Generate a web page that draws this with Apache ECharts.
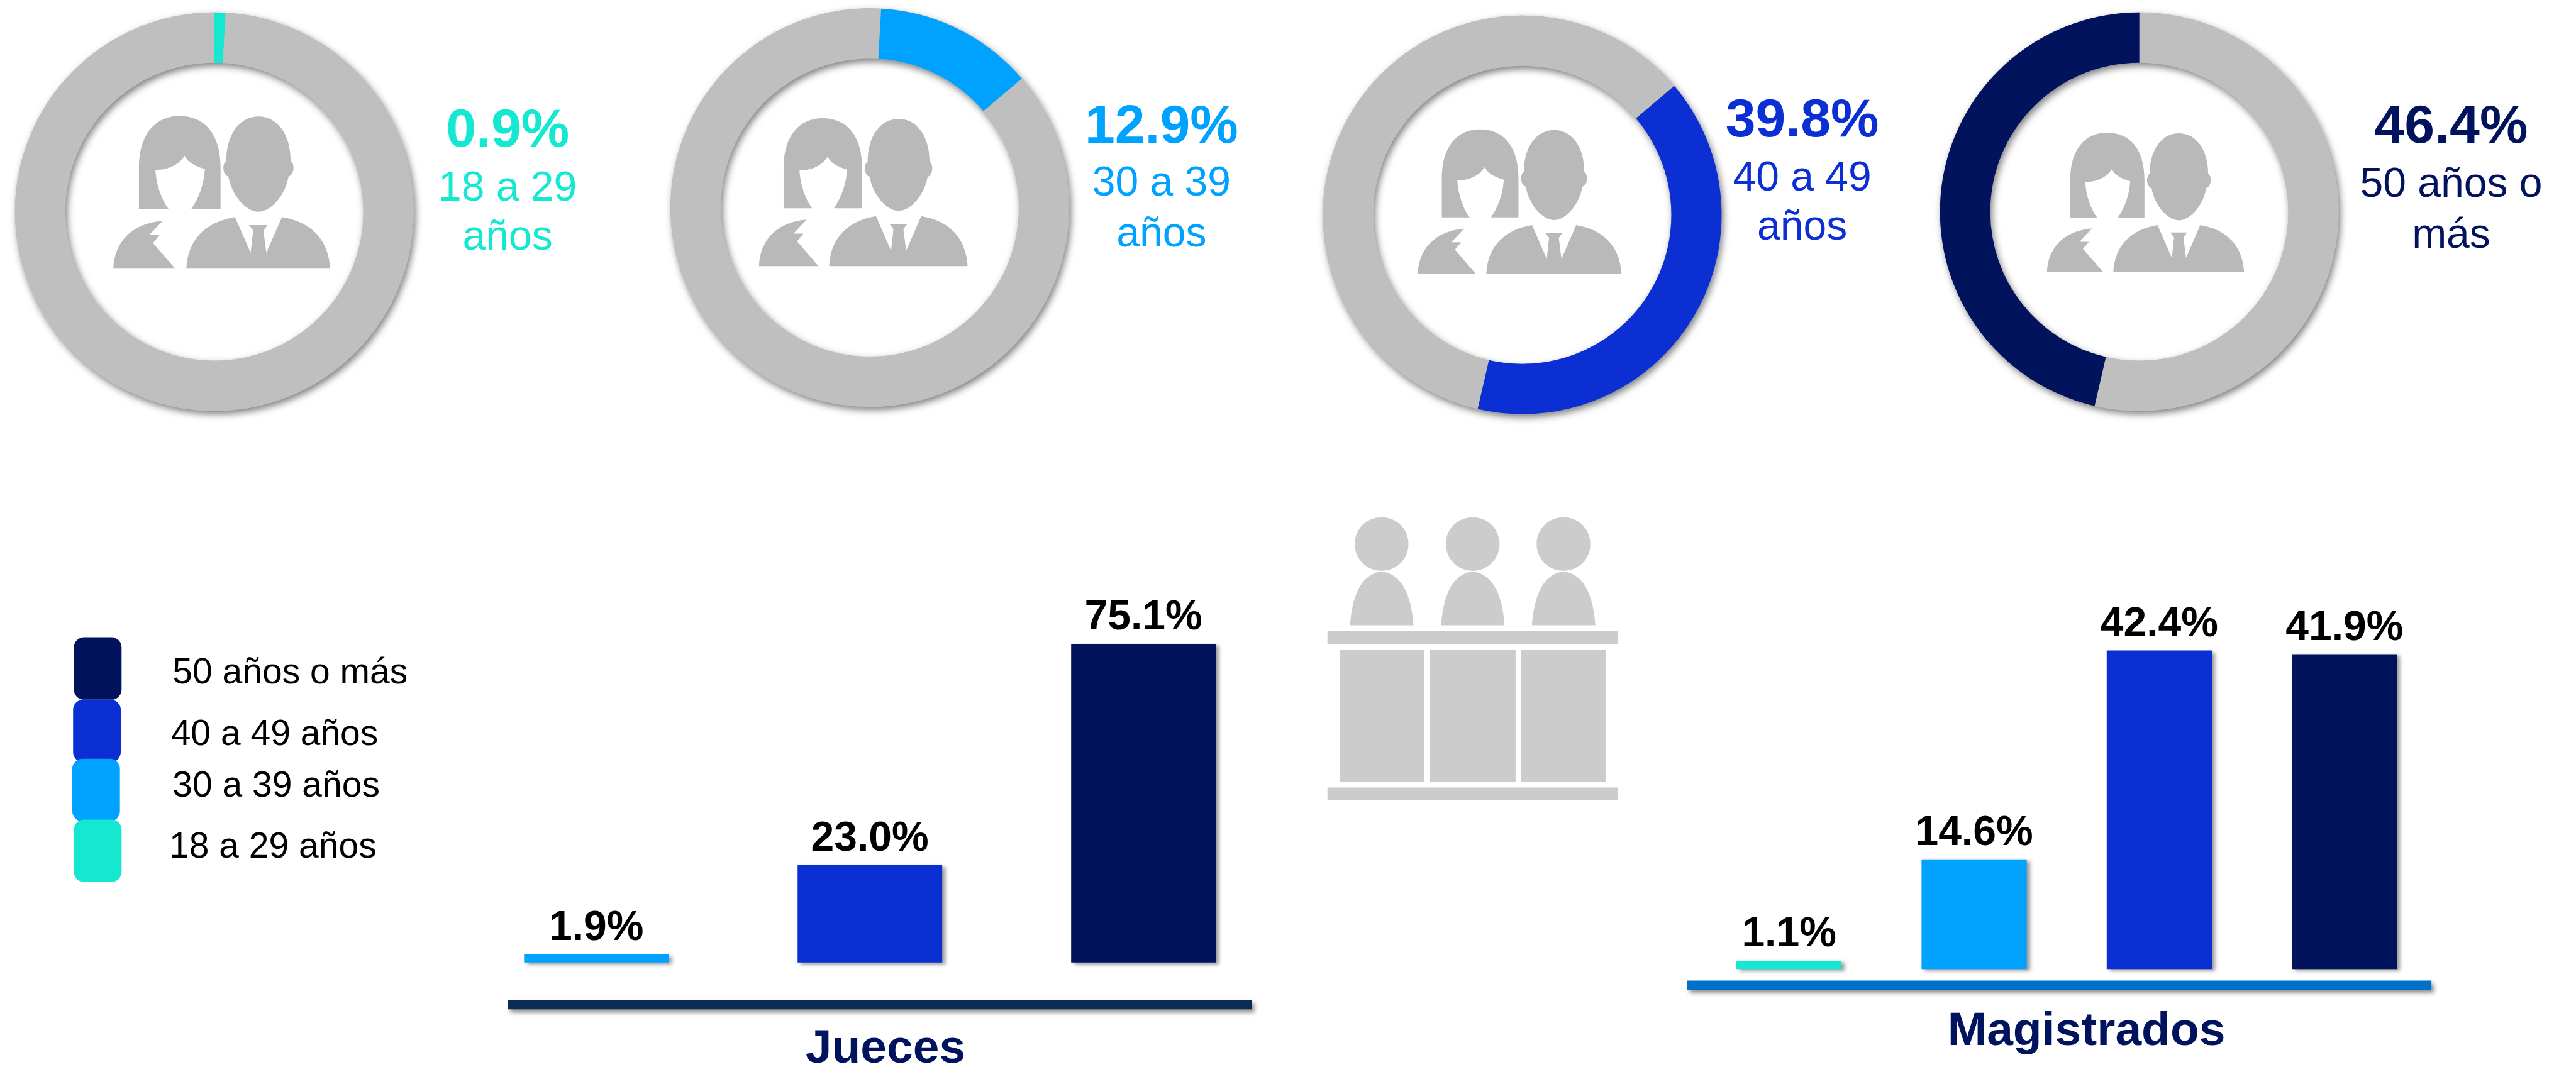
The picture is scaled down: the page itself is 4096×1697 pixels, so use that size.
<!DOCTYPE html>
<html><head><meta charset="utf-8">
<style>html,body{margin:0;padding:0;background:#fff}#c{width:4096px;height:1697px}</style>
<script src="https://cdn.jsdelivr.net/npm/echarts@6/dist/echarts.min.js"></script>
</head><body><div id="c"></div>
<script>
const ageGroups = ['18 a 29 años','30 a 39 años','40 a 49 años','50 años o más'];
const donutLines = [['18 a 29','años'],['30 a 39','años'],['40 a 49','años'],['50 años o','más']];
const donutShares = [0.9,12.9,39.8,46.4];
const juecesCats = ['30 a 39 años','40 a 49 años','50 años o más'];
const juecesValues = [1.9,23.0,75.1];
const magistradosCats = ['18 a 29 años','30 a 39 años','40 a 49 años','50 años o más'];
const magistradosValues = [1.1,14.6,42.4,41.9];
const ageColors = {'18 a 29 años':'#14E8D0','30 a 39 años':'#00A2FF','40 a 49 años':'#0B2FD3','50 años o más':'#02135E'};
const FONT = '"Liberation Sans", Arial, sans-serif';
const s = v => v*4096/1568;

const donutGeo = [
  {cx:130.5,cy:128.9,icon:[69,70.6,132,93],text:309,y:[80,115,145]},
  {cx:529.5,cy:126.4,icon:[462,72,127,90],text:707,y:[78,112,143]},
  {cx:926.6,cy:130.8,icon:[863,78.8,124,88],text:1097,y:[74,109,139]},
  {cx:1302.2,cy:128.9,icon:[1246,80.8,120,85],text:1492,y:[78,113,144]}
];
const ringOuter = 317, ringInner = 237;
const people = 'M340 748L340 600C340 480 380 415 438 415C500 415 538 480 538 600L538 748L467 748C485 710 498 660 500 605C475 595 458 580 451 557C440 585 415 608 380 608C382 660 395 715 412 748Z'
 +'M278 962C280 870 320 800 398 790L365 842L390 842L374 870L428 962Z'
 +'M552 575C552 480 585 417 630 417C675 417 708 480 708 575C718 585 718 625 703 632C695 700 660 758 630 758C600 758 565 700 557 632C542 625 542 585 552 575Z'
 +'M455 962C458 860 500 795 573 777L611 905L617 825L607 806L652 806L642 825L649 905L687 777C760 795 800 860 804 962Z';
const head = c => `M${c-107} 240C${c-107} 170 ${c-60} 115 ${c} 115C${c+60} 115 ${c+107} 170 ${c+107} 240C${c+107} 310 ${c+60} 365 ${c} 365C${c-60} 365 ${c-107} 310 ${c-107} 240Z`
 +`M${c-126} 620C${c-118} 500 ${c-90} 380 ${c} 368C${c+90} 380 ${c+120} 500 ${c+127} 620Z`;
const rectP = (a,b,c,d) => `M${a} ${b}L${c} ${b}L${c} ${d}L${a} ${d}Z`;
const bench = head(388)+head(751)+head(1113)+rectP(172,647,1331,707)+rectP(221,733,558,1352)+rectP(581,733,922,1352)+rectP(944,733,1281,1352)+rectP(172,1378,1331,1436);

const series = [], graphic = [], icons = [];
donutShares.forEach((v,i) => {
  const g = donutGeo[i], col = ageColors[ageGroups[i]];
  const center = [s(g.cx), s(g.cy)];
  series.push({type:'pie',silent:true,z:1,radius:[ringInner,ringOuter],center,label:{show:false},labelLine:{show:false},
    itemStyle:{color:'#B4B4B4',shadowBlur:12,shadowOffsetX:3,shadowOffsetY:5,shadowColor:'rgba(0,0,0,0.5)'},
    data:[{value:100,name:'base'}]});
  series.push({type:'pie',silent:true,z:2,startAngle:90,clockwise:true,minAngle:0,radius:[ringInner,ringOuter],center,label:{show:false},labelLine:{show:false},
    data:donutShares.map((x,k)=>({value:x,name:ageGroups[k],itemStyle:{color:k===i?col:'#BFBFBF'}}))});
  icons.push({d:people,box:g.icon,fill:'#B9B9B9'});
  graphic.push({type:'text',z:5,x:s(g.text),y:s(g.y[0]),style:{text:v.toFixed(1)+'%',font:`bold 86px ${FONT}`,fill:col,textAlign:'center',textVerticalAlign:'middle'}});
  donutLines[i].forEach((t,k)=>graphic.push({type:'text',z:5,x:s(g.text),y:s(g.y[k+1]),style:{text:t,font:`66px ${FONT}`,fill:col,textAlign:'center',textVerticalAlign:'middle'}}));
});

// bench icon
icons.push({d:bench,box:[808,315,177,172],fill:'#CCCCCC'});
series.push({type:'custom',coordinateSystem:'none',silent:true,z:5,data:icons.map((_,i)=>[i]),
  renderItem:(p)=>{const it=icons[p.dataIndex],b=it.box;return {type:'path',shape:{pathData:it.d,layout:'cover',x:s(b[0]),y:s(b[1]),width:s(b[2]),height:s(b[3])},style:{fill:it.fill}};}});

// legend
const legendGeo = [[45,388,426,105,410],[44.5,426,464,104,447.5],[44,462,500,105,479],[45,499,537,103,516]];
['50 años o más','40 a 49 años','30 a 39 años','18 a 29 años'].forEach((n,i)=>{
  const L = legendGeo[i];
  graphic.push({type:'rect',z:5+i,shape:{x:s(L[0]),y:s(L[1]),width:s(29),height:s(L[2]-L[1]),r:16},style:{fill:ageColors[n]}});
  graphic.push({type:'text',z:9,x:s(L[3]),y:s(L[4]),style:{text:n,font:`57px ${FONT}`,fill:'#000',textAlign:'left',textVerticalAlign:'middle'}});
});

// separators and panel titles
[[309,609,453,5.5,'#0B2D55'],[1027,597,453,5.5,'#0070C8']].forEach(r=>{
  graphic.push({type:'rect',z:3,shape:{x:s(r[0]),y:s(r[1]),width:s(r[2]),height:s(r[3])},
    style:{fill:r[4],shadowBlur:7,shadowOffsetX:4,shadowOffsetY:5,shadowColor:'rgba(0,0,0,0.45)'}});
});
[['Jueces',539,639],['Magistrados',1270,628.5]].forEach(t=>{
  graphic.push({type:'text',z:5,x:s(t[1]),y:s(t[2]),style:{text:t[0],font:`bold 75px ${FONT}`,fill:'#02135E',textAlign:'center',textVerticalAlign:'middle'}});
});

// bars
const panels = [
  {cats:juecesCats,vals:juecesValues,left:279.75,width:499.5,base:586,perUnit:2.583,max:80,bar:88},
  {cats:magistradosCats,vals:magistradosValues,left:1032.6,width:450.8,base:590,perUnit:4.575,max:50,bar:64}
];
const grids=[],xAxes=[],yAxes=[];
panels.forEach((p,i)=>{
  grids.push({left:s(p.left),width:s(p.width),top:s(p.base-p.max*p.perUnit),height:s(p.max*p.perUnit),containLabel:false});
  xAxes.push({type:'category',gridIndex:i,data:p.cats,show:false});
  yAxes.push({type:'value',gridIndex:i,min:0,max:p.max,show:false});
  series.push({type:'bar',xAxisIndex:i,yAxisIndex:i,barWidth:s(p.bar),z:4,
    label:{show:true,position:'top',distance:8,formatter:d=>d.value.toFixed(1)+'%',fontFamily:'Liberation Sans',fontWeight:'bold',fontSize:66,color:'#000'},
    data:p.vals.map((v,k)=>({value:v,itemStyle:{color:ageColors[p.cats[k]],shadowBlur:6,shadowOffsetX:5,shadowOffsetY:3,shadowColor:'rgba(0,0,0,0.4)'}}))});
});

const chart = echarts.init(document.getElementById('c'),null,{renderer:'canvas'});
chart.setOption({animation:false,backgroundColor:'#fff',tooltip:{show:false},legend:{show:false},grid:grids,xAxis:xAxes,yAxis:yAxes,series,graphic});
</script></body></html>
